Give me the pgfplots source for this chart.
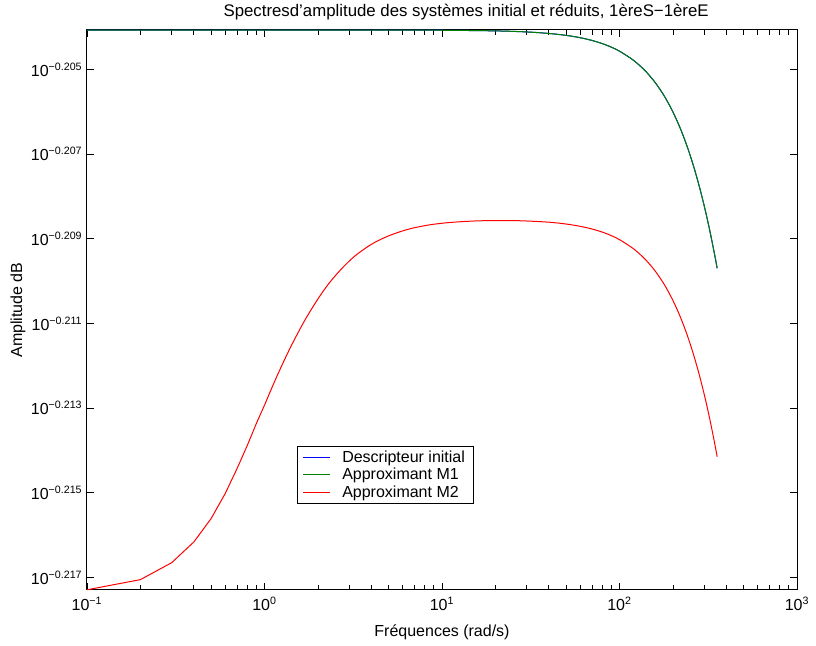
\documentclass[border=0pt]{standalone}
\usepackage{pgfplots}
\pgfplotsset{compat=1.18}
\usepackage{pgfplotstable}
\usepackage{fontspec}
\setmainfont{Liberation Sans}

\pgfplotstableread{
f e
0.1 -0.204068
1 -0.204068
5 -0.204069
10 -0.204073
20 -0.204088
30 -0.204113
40 -0.204149
50 -0.204194
60 -0.204249
70 -0.204314
80 -0.204389
90 -0.204473
100 -0.204567
120 -0.204784
140 -0.205037
160 -0.205326
180 -0.205648
200 -0.206004
220 -0.206391
240 -0.206808
260 -0.207253
280 -0.207724
300 -0.208219
320 -0.208738
340 -0.209278
355 -0.209695
}\tblue

\pgfplotstableread{
f e
0.1 -0.21729
0.2 -0.21705
0.3 -0.21665
0.4 -0.21616
0.5 -0.21561
0.6 -0.21502
0.7 -0.21443
0.8 -0.21388
0.9 -0.21336
1.0 -0.21293
}\tredlow

\pgfplotstableread{
f e
1.0 -0.21293
1.1 -0.21252
1.2 -0.21216
1.35 -0.21170
1.5 -0.21132
1.7 -0.21090
2.0 -0.21042
2.3 -0.21006
2.7 -0.20972
3.2 -0.20942
4.0 -0.20913
5.0 -0.20893
6.5 -0.20877
8.5 -0.20867
11 -0.208615
15 -0.20858
20 -0.208568
28 -0.208574
40 -0.208607
50 -0.20865
60 -0.208704
70 -0.208768
80 -0.208841
90 -0.208925
100 -0.209019
120 -0.209236
140 -0.209489
160 -0.209778
180 -0.210100
200 -0.210456
220 -0.210843
240 -0.211260
260 -0.211705
280 -0.212176
300 -0.212671
320 -0.213190
340 -0.213730
355 -0.214147
}\tredhigh

\begin{document}
\begin{tikzpicture}[x=1pt,y=1pt]
\useasboundingbox (-65.25,-41.25) rectangle (546.75,442.5);
\begin{axis}[
  at={(0,0)}, anchor=south west,
  scale only axis, width=532.5pt, height=420pt,
  xmode=log, xmin=0.1, xmax=1000,
  ymin=-0.217295, ymax=-0.204067,
  clip=false,
  axis line style={black, line width=0.75pt},
  tick style={black, line width=0.6pt},
  major tick length=5.5pt, minor tick length=3.5pt,
  tick align=inside,
  xtick={0.1,1,10,100,1000},
  xticklabels={10\textsuperscript{−1},10\textsuperscript{0},10\textsuperscript{1},10\textsuperscript{2},10\textsuperscript{3}},
  minor xtick={0.2,0.3,0.4,0.5,0.6,0.7,0.8,0.9,2,3,4,5,6,7,8,9,20,30,40,50,60,70,80,90,200,300,400,500,600,700,800,900},
  ytick={-0.217,-0.215,-0.213,-0.211,-0.209,-0.207,-0.205},
  yticklabels={10\textsuperscript{−0.217},10\textsuperscript{−0.215},10\textsuperscript{−0.213},10\textsuperscript{−0.211},10\textsuperscript{−0.209},10\textsuperscript{−0.207},10\textsuperscript{−0.205}},
  tick label style={font=\fontsize{12}{14}\selectfont},
  xticklabel style={yshift=-2pt},
  xlabel={Fréquences (rad/s)},
  ylabel={Amplitude dB},
  label style={font=\fontsize{12}{14}\selectfont},
  xlabel style={at={(axis description cs:0.5,-0.075)}, anchor=center},
  ylabel style={at={(axis description cs:-0.0972,0.5)}, anchor=center},
  title={Spectresd'amplitude des systèmes initial et réduits, 1èreS−1èreE},
  title style={font=\fontsize{12.6}{14}\selectfont, at={(0.534,1)}, anchor=south, yshift=-2pt},
  legend style={at={(0.296,0.257)}, anchor=north west, draw=black, line width=0.6pt,
    font=\fontsize{12}{14}\selectfont, cells={anchor=west}, inner xsep=4pt, inner ysep=1pt, row sep=-1pt},
  legend image code/.code={\draw[#1, line width=0.8pt] (0.12cm,0cm) -- (0.81cm,0cm); \path (1.06cm,0cm);},
]
\addplot[blue, line width=0.75pt, smooth] table[x=f,y=e] {\tblue};
\addlegendentry{Descripteur initial}
\addplot[green!50!black, line width=0.75pt, smooth] table[x=f,y=e] {\tblue};
\addlegendentry{Approximant M1}
\addplot[red, line width=0.75pt] table[x=f,y=e] {\tredlow};
\addlegendentry{Approximant M2}
\addplot[red, line width=0.75pt, smooth, forget plot] table[x=f,y=e] {\tredhigh};
\end{axis}
\end{tikzpicture}
\end{document}
